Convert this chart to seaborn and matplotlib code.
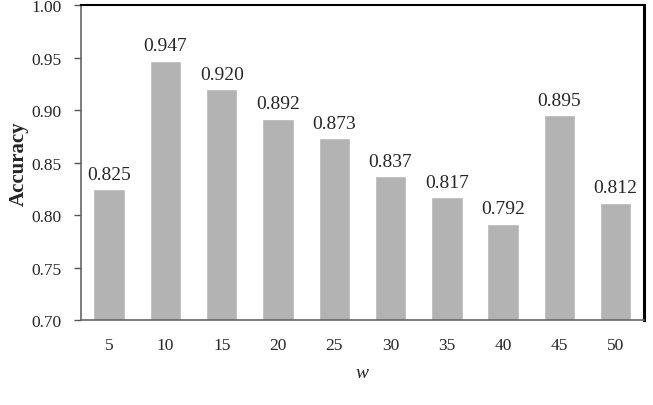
import matplotlib
matplotlib.use("Agg")
import matplotlib.pyplot as plt
import seaborn as sns
import pandas as pd
import numpy as np

categories = ["5", "10", "15", "20", "25", "30", "35", "40", "45", "50"]
accuracy = [0.825, 0.947, 0.920, 0.892, 0.873, 0.837, 0.817, 0.792, 0.895, 0.812]
value_labels = ["0.825", "0.947", "0.920", "0.892", "0.873", "0.837", "0.817", "0.792", "0.895", "0.812"]
yticks = [0.70, 0.75, 0.80, 0.85, 0.90, 0.95, 1.00]

sns.set_style("white")
plt.rcParams['font.family'] = ['Liberation Serif', 'DejaVu Serif']

df = pd.DataFrame({"w": categories, "Accuracy": accuracy})

fig = plt.figure(figsize=(6.53, 4.06), dpi=100)
ax = fig.add_axes([0.124, 0.209, 0.862, 0.776])
sns.barplot(data=df, x="w", y="Accuracy", color="#b3b3b3", saturation=1,
            width=0.56, ax=ax, order=categories)

ax.set_ylim(0.70, 1.00)
ax.set_xlim(-0.5, len(categories) - 0.5)
ax.set_yticks(yticks)
ax.set_yticklabels([f"{t:.2f}" for t in yticks], fontsize=12.5)
ax.set_xticks(range(len(categories)))
ax.set_xticklabels(categories, fontsize=12.5)
ax.set_xticks(np.arange(0.5, len(categories) - 0.5, 1), minor=True)
ax.tick_params(axis="x", which="major", length=0, pad=12)
ax.tick_params(axis="x", which="minor", length=4, direction="in", color="#555555", width=1)
ax.tick_params(axis="y", which="major", length=5, direction="out", color="#555555", width=1, pad=9, left=True)

for i, (v, lab) in enumerate(zip(accuracy, value_labels)):
    ax.text(i, v + 0.006, lab, ha="center", va="bottom", fontsize=14)

for side in ["left", "bottom"]:
    ax.spines[side].set_color("#666666")
    ax.spines[side].set_linewidth(1.2)
ax.spines["top"].set_color("black")
ax.spines["top"].set_linewidth(1.5)
ax.spines["right"].set_color("black")
ax.spines["right"].set_linewidth(2.2)
for side in ["top", "right"]:
    ax.spines[side].set_visible(True)

ax.set_ylabel("Accuracy", fontsize=15, fontweight="bold", labelpad=2)
ax.set_xlabel("w", fontsize=14, fontstyle="italic", labelpad=8)

fig.savefig("out.png", dpi=100)
